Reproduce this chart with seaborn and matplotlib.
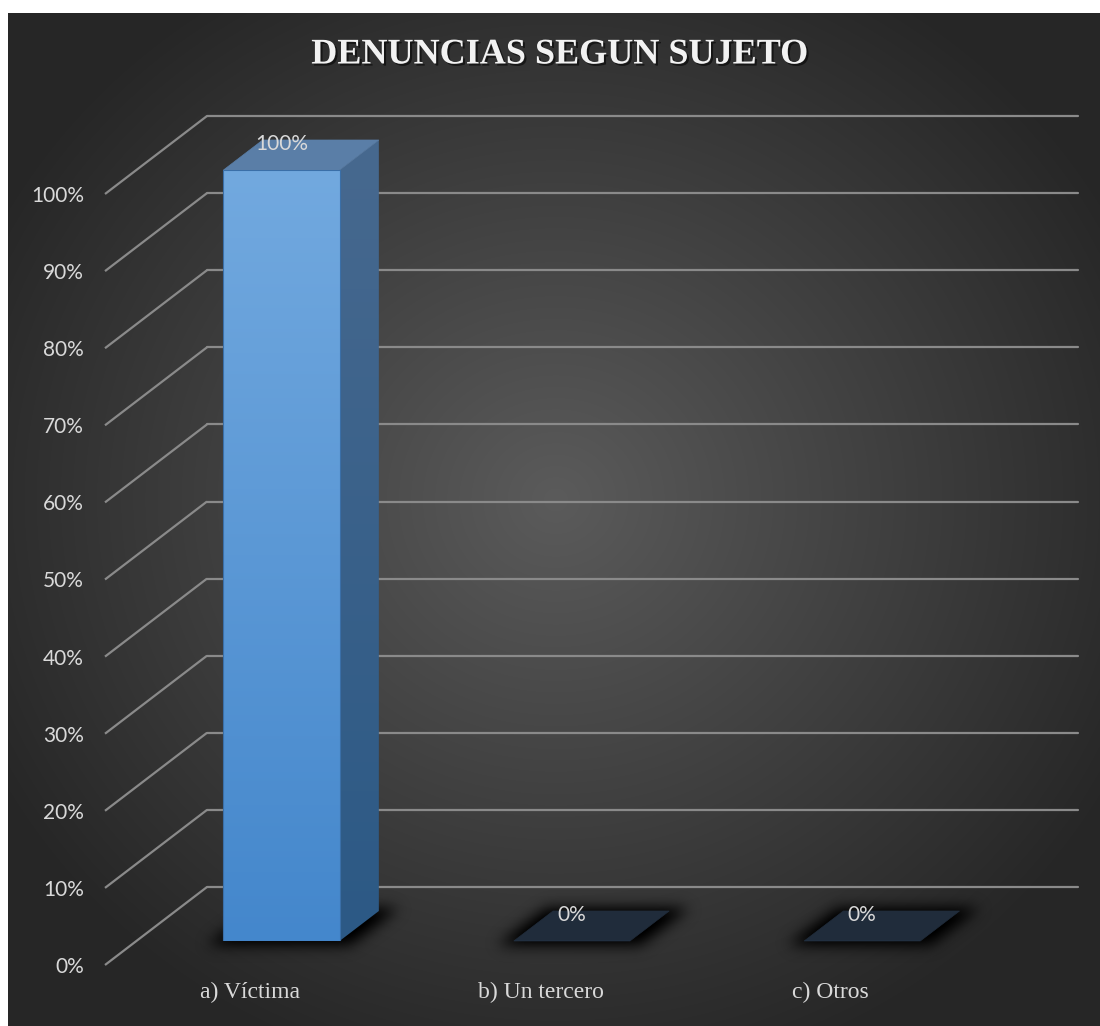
import numpy as np
import pandas as pd
import matplotlib
matplotlib.use("Agg")
import matplotlib.pyplot as plt
import seaborn as sns
from matplotlib.path import Path
from matplotlib.patches import Polygon
from matplotlib import patheffects
from matplotlib.colors import to_rgb

# ---- data -------------------------------------------------------------
categorias = ["a) Víctima", "b) Un tercero", "c) Otros"]
porcentajes = [100, 0, 0]
ticks_pct = [0, 10, 20, 30, 40, 50, 60, 70, 80, 90, 100]
etiquetas_pct = [f"{t}%" for t in ticks_pct]
titulo = "DENUNCIAS SEGUN SUJETO"

# ---- figure ---------------------------------------------------------------
W, H, DPI = 1100, 1026, 100
sns.set_theme(style="white")
plt.rcParams["font.family"] = ["Lato", "DejaVu Sans"]

fig = plt.figure(figsize=(W / DPI, H / DPI), dpi=DPI)
fig.patch.set_facecolor("white")

TXT = "#d9d9d9"
GRID = "#8a8a8a"

# background: dark radial gradient inside the chart area
CX0, CY0 = 8, 13
ax_bg = fig.add_axes([0, 0, 1, 1], zorder=0)
ax_bg.set_axis_off()
yy, xx = np.mgrid[0:H, 0:W] + 0.5
r = np.sqrt(((xx - 556) / 640.0) ** 2 + ((yy - 500) / 600.0) ** 2)
t = np.clip(r, 0, 1)
c_in, c_out = np.array(to_rgb("#5b5b5b")), np.array(to_rgb("#262626"))
bg = c_in + (c_out - c_in) * t[..., None]
bg[(xx < CX0) | (yy < CY0)] = 1.0
ax_bg.imshow(bg, extent=(0, W, H, 0), origin="upper", interpolation="bilinear", aspect="auto")

# ---- 3D planes: back wall, bar front, floor front edge -------------------
BACK_L, BACK_R, BACK_B, BACK_T = 207, 1078, 887, 116
DEPTH = np.array([-102.0, 78.0])      # back wall -> front edge of floor (image px)
F_FRONT, F_BACK = 54 / 78, 24 / 78    # bar front / back faces as fraction of depth
n = len(categorias)


def plane(frac, z):
    dx, dy = DEPTH * frac
    ax = fig.add_axes([(BACK_L + dx) / W, (H - (BACK_B + dy)) / H,
                       (BACK_R - BACK_L) / W, (BACK_B - BACK_T) / H], zorder=z)
    ax.patch.set_alpha(0)
    for s in ax.spines.values():
        s.set_visible(False)
    ax.tick_params(length=0)
    return ax


def lims(ax):
    ax.set_xlim(-0.5, n - 0.5)
    ax.set_ylim(0, 100)


ax_back = plane(0, 1)
ax_px = fig.add_axes([0, 0, 1, 1], zorder=2)
ax_px.set_axis_off()
ax_front = plane(F_FRONT, 3)
ax_floor = plane(1, 4)
for a in (ax_back, ax_front, ax_floor):
    lims(a)

# back wall gridlines
ax_back.set_yticks(ticks_pct)
ax_back.set_xticks([])
ax_back.tick_params(labelleft=False, labelbottom=False)
ax_back.grid(True, axis="y", color=GRID, lw=1.6)
for gl in ax_back.get_ygridlines():
    gl.set_clip_on(False)


def to_img(p):
    return np.array([p[0], H - p[1]])


# side-wall diagonals from the floor edge to the back wall
for v in ticks_pct:
    p0 = to_img(ax_floor.transData.transform((-0.5, v)))
    p1 = to_img(ax_back.transData.transform((-0.5, v)))
    ax_bg.plot([p0[0], p1[0]], [p0[1], p1[1]], color=GRID, lw=1.6,
               solid_capstyle="butt")

# ---- bars -------------------------------------------------------------
df = pd.DataFrame({"categoria": categorias, "porcentaje": porcentajes})
sns.barplot(data=df, x="categoria", y="porcentaje", ax=ax_front, width=0.4,
            color="#5797d6", saturation=1, edgecolor="#3a6fa8", linewidth=0.8)
ax_front.set(xlabel="", ylabel="", xticks=[], yticks=[])
lims(ax_front)

back_shift = -DEPTH * (F_FRONT - F_BACK)   # front face -> back face (image px)


def vgrad(c_top, c_bot, rows=256):
    a, b = np.array(to_rgb(c_top)), np.array(to_rgb(c_bot))
    s = np.linspace(0, 1, rows)[:, None]
    return (a + (b - a) * s)[:, None, :].repeat(2, axis=1)


def blur(a, s):
    k = np.exp(-0.5 * (np.arange(-3 * s, 3 * s + 1) / s) ** 2)
    k /= k.sum()
    a = np.apply_along_axis(lambda m: np.convolve(m, k, mode="same"), 0, a)
    return np.apply_along_axis(lambda m: np.convolve(m, k, mode="same"), 1, a)


shadow = np.zeros((H, W))
pts = np.column_stack([xx.ravel(), yy.ravel()])
T = ax_front.transData
for bar in ax_front.patches:
    x0, w, h = bar.get_x(), bar.get_width(), bar.get_height()
    fl, fr = to_img(T.transform((x0, 0))), to_img(T.transform((x0 + w, 0)))
    tl, tr = to_img(T.transform((x0, h))), to_img(T.transform((x0 + w, h)))

    # soft floor shadow of the footprint
    foot = np.array([fl + [-16, 4], fr + [10, 4], fr + back_shift + [20, -3],
                     fl + back_shift + [-6, -3]])
    shadow = np.maximum(shadow, Path(foot).contains_points(pts).reshape(H, W))

    if h > 0:
        side = np.array([fr, tr, tr + back_shift, fr + back_shift])
        clip = Polygon(side, closed=True, facecolor="none", edgecolor="none")
        ax_px.add_patch(clip)
        im = ax_px.imshow(vgrad("#47698f", "#2c5985"),
                          extent=(side[:, 0].min(), side[:, 0].max(),
                                  side[:, 1].max(), side[:, 1].min()),
                          origin="upper", aspect="auto", zorder=2)
        im.set_clip_path(clip)
        top_col = "#5a7ea7"
        fim = ax_front.imshow(vgrad("#72a9df", "#4487cc"), extent=(x0, x0 + w, 0, h),
                              origin="upper", aspect="auto", zorder=bar.get_zorder() - 0.1)
        fim.set_clip_path(bar)
        bar.set_facecolor("none")
    else:
        top_col = "#202c3b"
    top = np.array([tl, tr, tr + back_shift, tl + back_shift])
    ax_px.add_patch(Polygon(top, closed=True, facecolor=top_col,
                            edgecolor=top_col, lw=0.5, zorder=3))

    ax_front.annotate(f"{h:.0f}%", (x0 + w / 2, h), xytext=(0, 26 * 72 / DPI),
                      textcoords="offset points", ha="center", va="center",
                      color=TXT, fontsize=15)

shadow = blur(shadow.astype(float), 7)
rgba = np.zeros((H, W, 4))
rgba[..., 3] = np.clip(shadow * 1.15, 0, 1)
ax_px.imshow(rgba, extent=(0, W, H, 0), origin="upper", aspect="auto", zorder=1)
ax_px.set_xlim(0, W)
ax_px.set_ylim(H, 0)
lims(ax_front)

# ---- axis labels on the floor front edge --------------------------------
ax_floor.set_yticks(ticks_pct, etiquetas_pct)
ax_floor.set_xticks(range(n), categorias)
ax_floor.tick_params(axis="y", pad=21 * 72 / DPI, labelcolor=TXT, labelsize=15)
ax_floor.tick_params(axis="x", pad=12, labelcolor=TXT, labelsize=17)
for lab in ax_floor.get_xticklabels():
    lab.set_fontfamily("Liberation Serif")
ax_floor.grid(False)
lims(ax_floor)

# ---- title -------------------------------------------------------------
fig.text(559.5 / W, 1 - 55 / H, titulo, ha="center", va="center",
         fontfamily="Liberation Serif", fontweight="bold", fontsize=26, color="#f2f2f2",
         path_effects=[patheffects.withSimplePatchShadow(offset=(1.5, -1.5),
                                                          shadow_rgbFace="black", alpha=0.55)])

fig.savefig("out.png", dpi=DPI)
